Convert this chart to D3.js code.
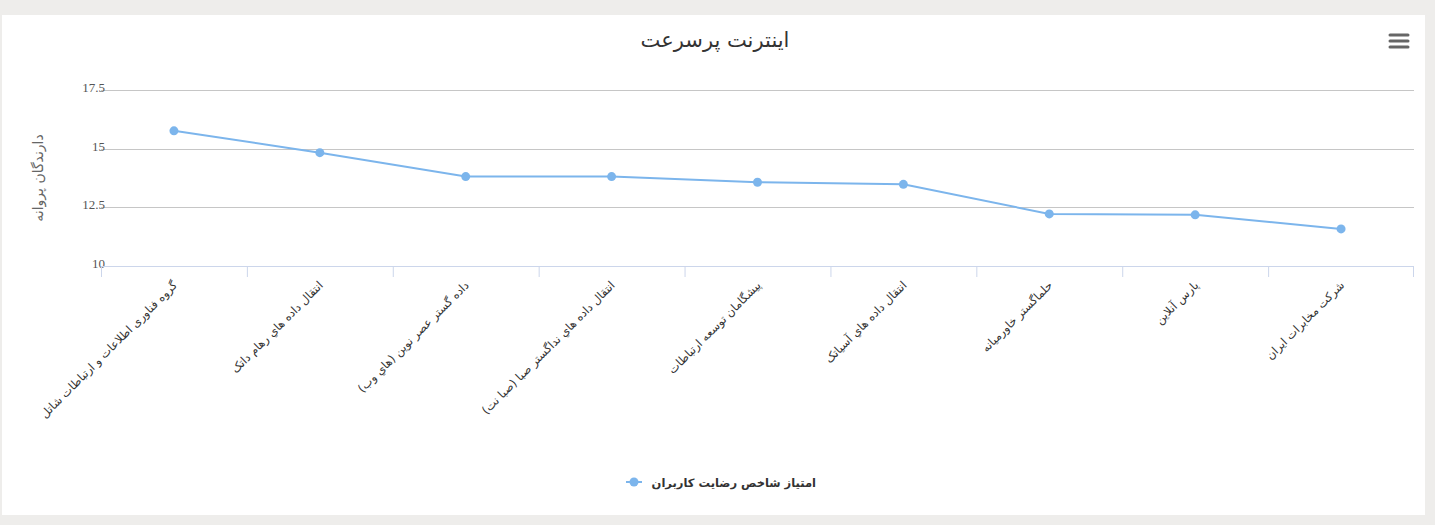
<!DOCTYPE html>
<html lang="fa">
<head>
<meta charset="UTF-8">
<title>اینترنت پرسرعت</title>
<script src="https://cdn.jsdelivr.net/npm/d3@7"></script>
<style>
  html, body { margin: 0; padding: 0; background: #eeedeb; }
  #chart { position: absolute; left: 2px; top: 15px; width: 1423px; height: 500px; background: #fff; }
  text { font-family: "DejaVu Sans", sans-serif; }
</style>
</head>
<body>
<div id="chart"><svg id="svg" width="1423" height="500"></svg></div>
<script>
// chart data
var categories = [
  "گروه فناوری اطلاعات و ارتباطات شاتل",
  "انتقال داده هاي رهام داتک",
  "داده گستر عصر نوین (هاي وب)",
  "انتقال داده هاي نداگستر صبا (صبا نت)",
  "پیشگامان توسعه ارتباطات",
  "انتقال داده هاي آسیاتک",
  "حلماگستر خاورمیانه",
  "پارس آنلاین",
  "شرکت مخابرات ایران"
];
var scores = [15.76, 14.83, 13.81, 13.81, 13.57, 13.48, 12.22, 12.18, 11.58];
var yTicks = [10, 12.5, 15, 17.5];
var chartTitle = "اینترنت پرسرعت";
var yTitle = "دارندگان پروانه";
var seriesName = "امتیاز شاخص رضایت کاربران";

// card is offset by (2,15) from the page
var margin = { top: 75, right: 11, bottom: 249, left: 99 },
    width = 1423 - margin.left - margin.right,
    height = 500 - margin.top - margin.bottom;

var svg = d3.select("#svg");
var g = svg.append("g")
    .attr("transform", "translate(" + margin.left + "," + margin.top + ")");

var x = d3.scaleBand().domain(categories).range([0, width]);
var y = d3.scaleLinear().domain([10, 17.5]).range([height, 0]);

// grid lines
g.append("g")
    .selectAll("line")
    .data(yTicks.filter(d => d > 10))
    .enter().append("line")
    .attr("x1", 0).attr("x2", width)
    .attr("y1", d => Math.round(y(d)) + 0.5)
    .attr("y2", d => Math.round(y(d)) + 0.5)
    .attr("stroke", "#c6c6c6").attr("stroke-width", 1);

// y tick labels
g.append("g")
    .selectAll("text")
    .data(yTicks)
    .enter().append("text")
    .attr("x", 4)
    .attr("y", d => y(d) + 2)
    .attr("text-anchor", "end")
    .style("font-family", "'Liberation Serif', serif")
    .style("font-size", "13px")
    .attr("fill", "#555")
    .text(d => d);

// x axis
var xAxis = g.append("g")
    .attr("transform", "translate(0," + height + ")");
xAxis.append("line")
    .attr("x1", 0).attr("x2", width)
    .attr("y1", 0.5).attr("y2", 0.5)
    .attr("stroke", "#ccd6eb");
xAxis.selectAll(".tick")
    .data(categories.concat([null]))
    .enter().append("line")
    .attr("x1", (d, i) => i === categories.length ? width - 0.5 : x(d) + 0.5)
    .attr("x2", (d, i) => i === categories.length ? width - 0.5 : x(d) + 0.5)
    .attr("y1", 0).attr("y2", 11)
    .attr("stroke", "#ccd6eb");
xAxis.selectAll(".lab")
    .data(categories)
    .enter().append("text")
    .attr("transform", d => "translate(" + (x(d) + x.bandwidth() / 2 + 4) + ",20) rotate(-45)")
    .attr("text-anchor", "end")
    .style("font-size", "11.5px")
    .attr("fill", "#333")
    .text(d => d);

// y title
svg.append("text")
    .attr("transform", "translate(41," + (margin.top + height / 2) + ") rotate(-90)")
    .attr("text-anchor", "middle")
    .style("font-size", "14px")
    .attr("fill", "#666")
    .text(yTitle);

// series line
var line = d3.line()
    .x((d, i) => x(categories[i]) + x.bandwidth() / 2)
    .y(d => y(d));
g.append("path")
    .datum(scores)
    .attr("d", line)
    .attr("fill", "none")
    .attr("stroke", "#7cb5ec")
    .attr("stroke-width", 2);
g.selectAll(".dot")
    .data(scores)
    .enter().append("circle")
    .attr("cx", (d, i) => x(categories[i]) + x.bandwidth() / 2)
    .attr("cy", d => y(d))
    .attr("r", 4.5)
    .attr("fill", "#7cb5ec");

// title
svg.append("text")
    .attr("x", 713)
    .attr("y", 32)
    .attr("text-anchor", "middle")
    .style("font-size", "21px")
    .attr("fill", "#333")
    .text(chartTitle);

// menu icon
svg.append("g")
    .selectAll("line")
    .data([0, 1, 2])
    .enter().append("line")
    .attr("x1", 1388).attr("x2", 1406)
    .attr("y1", d => 20 + d * 6).attr("y2", d => 20 + d * 6)
    .attr("stroke", "#666").attr("stroke-width", 3)
    .attr("stroke-linecap", "round");

// legend
var legend = svg.append("g").attr("transform", "translate(624,467)");
legend.append("line")
    .attr("x1", 0).attr("x2", 16).attr("y1", 0).attr("y2", 0)
    .attr("stroke", "#7cb5ec").attr("stroke-width", 2);
legend.append("circle")
    .attr("cx", 8).attr("cy", 0).attr("r", 4.5)
    .attr("fill", "#7cb5ec");
legend.append("text")
    .attr("x", 190).attr("y", 5)
    .attr("text-anchor", "end")
    .style("font-size", "11.5px")
    .style("font-weight", "bold")
    .attr("fill", "#333")
    .text(seriesName);
</script>
</body>
</html>
